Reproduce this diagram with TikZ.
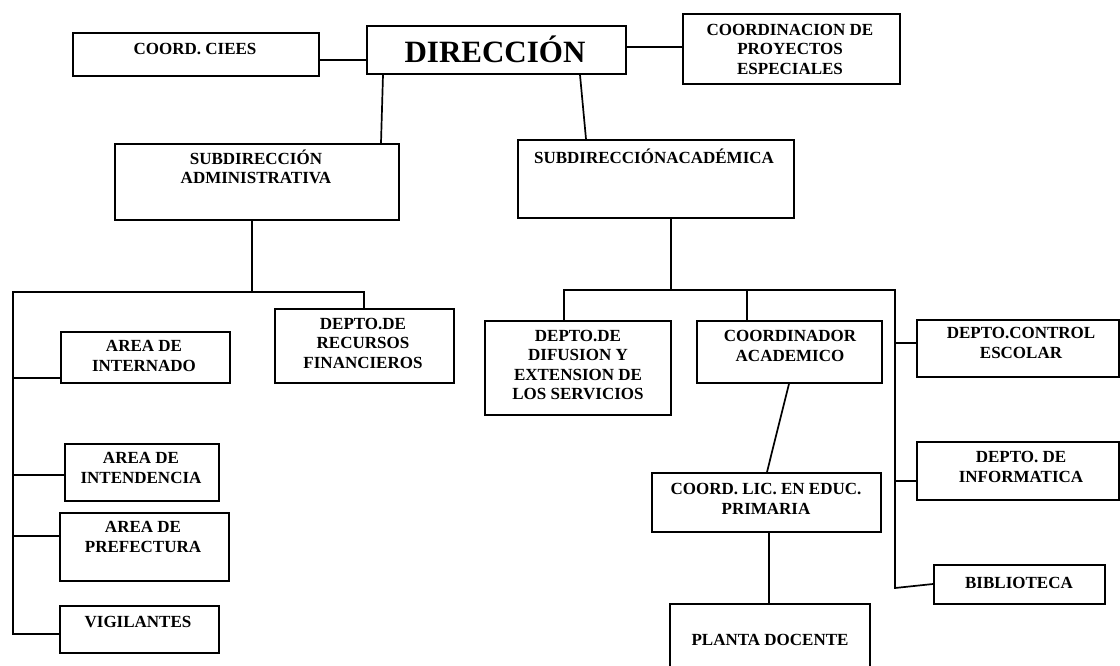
\documentclass[tikz,border=0pt]{standalone}
\usepackage{fontspec}
\setmainfont{Liberation Serif}
\begin{document}
\begin{tikzpicture}[x=1pt,y=-1pt,
  box/.style={draw, line width=1.8pt, inner sep=0pt, anchor=north west},
  lbl/.style={font=\bfseries\fontsize{17}{19.5}\selectfont, align=center, inner sep=0pt},
  conn/.style={line width=1.7pt, line cap=rect}]
\useasboundingbox (0,0) rectangle (1120,666);

% boxes
\node[box, minimum width=259pt, minimum height=48pt] (dir) at (366,25) {};
\node[box, minimum width=246pt, minimum height=43pt] (ciees) at (72,32) {};
\node[box, minimum width=217pt, minimum height=70pt] (cpe) at (682,13) {};
\node[box, minimum width=284pt, minimum height=76pt] (subadm) at (114,143) {};
\node[box, minimum width=276pt, minimum height=78pt] (subaca) at (517,139) {};
\node[box, minimum width=179pt, minimum height=74pt] (recursos) at (274,308) {};
\node[box, minimum width=169pt, minimum height=51pt] (internado) at (60,331) {};
\node[box, minimum width=154pt, minimum height=57pt] (intendencia) at (64,443) {};
\node[box, minimum width=169pt, minimum height=68pt] (prefectura) at (59,512) {};
\node[box, minimum width=159pt, minimum height=47pt] (vigilantes) at (59,605) {};
\node[box, minimum width=186pt, minimum height=94pt] (difusion) at (484,320) {};
\node[box, minimum width=185pt, minimum height=62pt] (coordinador) at (696,320) {};
\node[box, minimum width=202pt, minimum height=57pt] (control) at (916,319) {};
\node[box, minimum width=202pt, minimum height=58pt] (informatica) at (916,441) {};
\node[box, minimum width=171pt, minimum height=39pt] (biblioteca) at (933,564) {};
\node[box, minimum width=229pt, minimum height=59pt] (coordlic) at (651,472) {};
\node[box, minimum width=200pt, minimum height=68pt] (planta) at (669,603) {};

% texts
\node[lbl, font=\bfseries\fontsize{31}{34}\selectfont] (dir-t) at (495,49) {DIRECCIÓN};
\node[lbl] (ciees-t) at (195,49) {COORD. CIEES};
\node[lbl] (cpe-t) at (790,49) {COORDINACION DE\\PROYECTOS\\ESPECIALES};
\node[lbl] (subadm-t) at (256,167) {SUBDIRECCIÓN\\ADMINISTRATIVA};
\node[lbl] (subaca-t) at (654,156) {SUBDIRECCIÓNACADÉMICA};
\node[lbl] (recursos-t) at (363,343) {DEPTO.DE\\RECURSOS\\FINANCIEROS};
\node[lbl] (internado-t) at (144,356) {AREA DE\\INTERNADO};
\node[lbl] (intendencia-t) at (141,468) {AREA DE\\INTENDENCIA};
\node[lbl] (prefectura-t) at (143,537) {AREA DE\\PREFECTURA};
\node[lbl] (vigilantes-t) at (138,622) {VIGILANTES};
\node[lbl] (difusion-t) at (578,365) {DEPTO.DE\\DIFUSION Y\\EXTENSION DE\\LOS SERVICIOS};
\node[lbl] (coordinador-t) at (790,346) {COORDINADOR\\ACADEMICO};
\node[lbl] (control-t) at (1021,343) {DEPTO.CONTROL\\ESCOLAR};
\node[lbl] (informatica-t) at (1021,467) {DEPTO. DE\\INFORMATICA};
\node[lbl] (biblioteca-t) at (1019,583) {BIBLIOTECA};
\node[lbl] (coordlic-t) at (766,499) {COORD. LIC. EN EDUC.\\PRIMARIA};
\node[lbl] (planta-t) at (770,640) {PLANTA DOCENTE};

% junction coordinates
\coordinate (admj) at (252,292);
\coordinate (admL) at (13,292);
\coordinate (admR) at (364,292);
\coordinate (admB) at (13,634);
\coordinate (acaj) at (671,290);
\coordinate (acaL) at (564,290);
\coordinate (acaM) at (747,290);
\coordinate (acaR) at (895,290);
\coordinate (acaB) at (895,588);

% connectors
\draw[conn] (ciees.east |- 0,60) -- (dir.west |- 0,60);
\draw[conn] (dir.east |- 0,47) -- (cpe.west |- 0,47);
\draw[conn] (dir.south -| 383,0) -- (subadm.north -| 381,0);
\draw[conn] (dir.south -| 580,0) -- (subaca.north -| 586,0);

\draw[conn] (subadm.south -| admj) -- (admj);
\draw[conn] (admL) -- (admR) -- (recursos.north -| admR);
\draw[conn] (admL) -- (admB) -- (vigilantes.west |- admB);
\draw[conn] (admL |- 0,378) -- (internado.west |- 0,378);
\draw[conn] (admL |- 0,475) -- (intendencia.west |- 0,475);
\draw[conn] (admL |- 0,536) -- (prefectura.west |- 0,536);

\draw[conn] (subaca.south -| acaj) -- (acaj);
\draw[conn] (difusion.north -| acaL) -- (acaL) -- (acaR) -- (acaB);
\draw[conn] (acaM) -- (coordinador.north -| acaM);
\draw[conn] (acaR |- 0,343) -- (control.west |- 0,343);
\draw[conn] (acaR |- 0,481) -- (informatica.west |- 0,481);
\draw[conn] (acaB) -- (biblioteca.west |- 0,584);

\draw[conn] (coordinador.south -| 789,0) -- (coordlic.north -| 767,0);
\draw[conn] (coordlic.south -| 769,0) -- (planta.north -| 769,0);
\end{tikzpicture}
\end{document}
